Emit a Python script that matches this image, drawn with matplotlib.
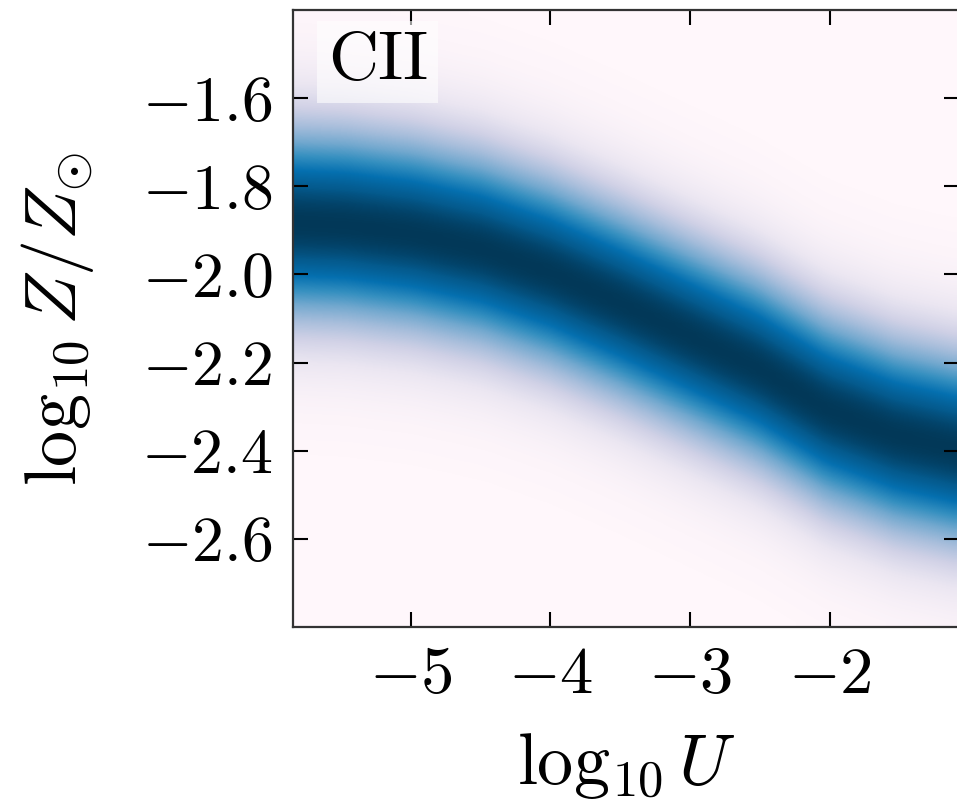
import numpy as np
import matplotlib
matplotlib.use("Agg")
import matplotlib.pyplot as plt

plt.rcParams['font.family'] = 'serif'
plt.rcParams['font.serif'] = ['cmr10', 'DejaVu Serif']
plt.rcParams['mathtext.fontset'] = 'cm'
plt.rcParams['axes.formatter.use_mathtext'] = True

# ridge of the density band
ridge_logU = [-5.84, -5.5, -5.0, -4.5, -4.0, -3.5, -3.0, -2.5, -2.0, -1.5, -1.08]
ridge_logZ = [-1.88, -1.885, -1.905, -1.94, -1.995, -2.065, -2.14, -2.215, -2.31, -2.37, -2.40]
band_sigma = 0.16

x_lim = (-5.84, -1.08)
y_lim = (-2.80, -1.40)
x_ticks = [-5, -4, -3, -2]
y_ticks = [-2.6, -2.4, -2.2, -2.0, -1.8, -1.6]
panel_label = 'CII'

# density grid (coarse, like the original sampling)
nx, ny = 66, 62
u = np.linspace(x_lim[0], x_lim[1], nx)
z = np.linspace(y_lim[0], y_lim[1], ny)
zc = np.interp(u, ridge_logU, ridge_logZ)
dens = np.exp(-0.5 * ((z[:, None] - zc[None, :]) / band_sigma) ** 2)

fig = plt.figure(figsize=(9.57, 8.06), dpi=100)
ax = fig.add_axes([0.3062, 0.2221, 0.6959, 0.7655])

ax.imshow(dens, extent=[x_lim[0], x_lim[1], y_lim[0], y_lim[1]],
          origin='lower', aspect='auto', cmap='PuBu',
          interpolation='bilinear', vmin=0, vmax=1)

ax.set_xlim(x_lim)
ax.set_ylim(y_lim)
ax.set_xticks(x_ticks)
ax.set_yticks(y_ticks)

ax.tick_params(direction='in', top=True, right=True, length=11, width=1.5)
ax.tick_params(axis='x', labelsize=48, pad=14)
ax.tick_params(axis='y', labelsize=46, pad=15)
for s in ax.spines.values():
    s.set_linewidth(1.6)
    s.set_color('#333333')

ax.set_xlabel(r'$\log_{10}U$', fontsize=52, labelpad=18)
ax.set_ylabel(r'$\log_{10}Z/Z_{\odot}$', fontsize=52, labelpad=32)

ax.text(0.052, 0.966, panel_label, transform=ax.transAxes, fontsize=50,
        ha='left', va='top',
        bbox=dict(boxstyle='square,pad=0.15', facecolor='white', edgecolor='none', alpha=0.6))

fig.savefig('out.png', dpi=100)
